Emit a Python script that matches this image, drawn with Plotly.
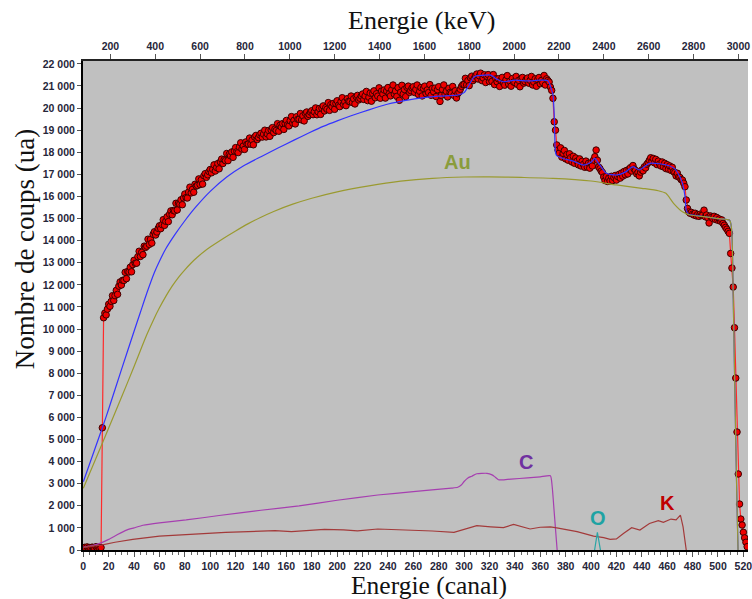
import plotly.graph_objects as go

# channel -> energy calibration for the top axis
KEV_OFFSET = 79.0
KEV_PER_CHANNEL = 5.66
X_MIN, X_MAX = -0.23, 523.65
Y_MAX = 22130

# Measured spectrum: counts for each channel, starting at channel 0
counts = [
    80, 120, 60, 140, 90, 110, 70, 130, 100, 60,                      # 0
    150, 90, 120, 80, 110, 5530, 10510, 10720, 10640, 10900,          # 10
    11120, 11030, 11250, 11510, 11290, 11510, 11750, 11570, 11940, 12130,  # 20
    11990, 12205, 12200, 12565, 12280, 12605, 12580, 12795, 12590, 12915,  # 30
    13110, 12975, 12980, 13275, 13520, 13285, 13470, 13365, 13750, 13695,  # 40
    13750, 14065, 13830, 14065, 13890, 14285, 14400, 14255, 14390, 14555,  # 50
    14670, 14543, 14726, 14949, 14692, 14875, 15078, 14861, 15194, 15347,  # 60
    15170, 15367, 15344, 15691, 15388, 15695, 15652, 15849, 15626, 15933,  # 70
    16110, 15950, 15930, 16200, 16420, 16160, 16320, 16190, 16550, 16470,  # 80
    16500, 16795, 16540, 16755, 16560, 16935, 17030, 16865, 16980, 17125,  # 90
    17220, 17070, 17230, 17430, 17150, 17310, 17490, 17250, 17560, 17690,  # 100
    17490, 17665, 17620, 17945, 17620, 17905, 17840, 18015, 17770, 18055,  # 110
    18210, 18027, 17984, 18231, 18428, 18145, 18282, 18129, 18466, 18363,  # 120
    18370, 18642, 18364, 18556, 18338, 18690, 18762, 18574, 18666, 18788,  # 130
    18860, 18686, 18822, 18998, 18694, 18830, 18986, 18722, 19008, 19114,  # 140
    18890, 19048, 18986, 19294, 18952, 19220, 19138, 19296, 19034, 19302,  # 150
    19440, 19246, 19192, 19428, 19614, 19320, 19446, 19282, 19608, 19494,  # 160
    19490, 19752, 19464, 19646, 19418, 19760, 19822, 19624, 19706, 19818,  # 170
    19880, 19702, 19834, 20006, 19698, 19830, 19982, 19714, 19996, 20098,  # 180
    19870, 20019, 19948, 20247, 19896, 20155, 20064, 20213, 19942, 20201,  # 190
    20330, 20127, 20064, 20291, 20468, 20165, 20282, 20109, 20426, 20303,  # 200
    20290, 20544, 20248, 20422, 20186, 20520, 20574, 20368, 20442, 20546,  # 210
    20636, 20389, 20545, 20753, 20337, 20493, 20675, 20311, 20662, 20779,  # 220
    20467, 20647, 20541, 20916, 20446, 20769, 20637, 20817, 20451, 20774,  # 230
    20928, 20648, 20550, 20829, 21043, 20633, 20769, 20528, 20924, 20350,  # 240
    20715, 21030, 20630, 20841, 20519, 20938, 20993, 20710, 20791, 20911,  # 250
    20966, 20706, 20849, 21044, 20615, 20758, 20927, 20550, 20888, 20992,  # 260
    20657, 20822, 20701, 21061, 20576, 20884, 20737, 20902, 20521, 20829,  # 270
    20968, 20300, 20572, 20842, 21047, 20628, 20755, 20505, 20892, 20707,  # 280
    20665, 20977, 20574, 20782, 20457, 20650, 20720, 20850, 20980, 21060,  # 290
    21068, 21346, 21051, 21246, 21014, 21374, 21444, 21243, 21334, 21455,  # 300
    21540, 21316, 21455, 21580, 21244, 21363, 21505, 21156, 21440, 21514,  # 310
    21201, 21333, 21208, 21516, 21063, 21324, 21185, 21327, 20978, 21259,  # 320
    21387, 21130, 21036, 21282, 21469, 21095, 21212, 20989, 21340, 21177,  # 330
    21151, 21432, 21070, 21257, 20964, 21339, 21386, 21128, 21198, 21304,  # 340
    21360, 21126, 21255, 21431, 21044, 21173, 21325, 20986, 21290, 21384,  # 350
    21101, 21253, 21148, 21476, 21043, 21324, 21250, 21180, 20950, 20800,  # 360
    20440, 19380, 19000, 18330, 18100, 17960, 18200, 17780, 17950, 18080,  # 370
    17700, 17900, 17640, 17930, 17760, 17560, 17820, 17500, 17740, 17600,  # 380
    17430, 17700, 17380, 17590, 17450, 17320, 17600, 17330, 17500, 17280,  # 390
    17520, 17380, 17650, 17800, 18100, 17640, 17330, 17260, 17150, 17080,  # 400
    16880, 16720, 16900, 16680, 16830, 16700, 16910, 16720, 16860, 16950,  # 410
    16740, 16900, 17000, 16830, 17060, 16920, 17130, 16980, 17180, 17020,  # 420
    17230, 17300, 17150, 17400, 17240, 17180, 17020, 17090, 16930, 17100,  # 430
    17200, 17160, 17340, 17290, 17460, 17530, 17640, 17750, 17580, 17720,  # 440
    17520, 17680, 17440, 17600, 17470, 17380, 17560, 17340, 17500, 17260,  # 450
    17440, 17230, 17380, 17180, 17320, 17120, 17080, 16930, 17050, 16880,  # 460
    16860, 16760, 16740, 16600, 16440, 15840, 15460, 15300, 15240, 15280,  # 470
    15200, 15160, 15240, 15120, 15180, 15100, 15200, 15140, 15160, 15380,  # 480
    15080, 15160, 15040, 14800, 15120, 15060, 15000, 15100, 14960, 15050,  # 490
    14920, 14980, 14880, 14940, 14780, 14700, 14600, 14520, 14420, 14330,  # 500
    13420, 12760, 11900, 10060, 7780, 5340, 3440, 2080, 1400, 1130,        # 510
    800, 550, 350, 150,                                                    # 520
]
channels = list(range(len(counts)))

# Simulated total spectrum
total_ch = [0, 10, 15, 20, 30, 40, 45, 50, 56, 60, 65, 72, 80, 88, 100, 113,
            126, 140, 153, 166, 178, 189, 200, 211, 225, 238, 250, 264, 280,
            295, 300, 304, 308, 314, 321, 326, 331, 340, 350, 360, 366, 369,
            370, 371, 372, 373, 378, 386, 394, 400, 403, 406, 412, 420, 427,
            433, 438, 446, 454, 462, 466, 470, 472, 474, 475, 477, 480, 490,
            500, 509, 510, 511, 512, 513, 514, 515, 515.8]
total_val = [3090, 4720, 5530, 6380, 8150, 9900, 10760, 11620, 12560, 13070,
             13630, 14260, 14900, 15480, 16230, 16880, 17380, 17800, 18180,
             18550, 18880, 19170, 19420, 19650, 19920, 20150, 20300, 20440,
             20540, 20590, 20700, 21050, 21420, 21480, 21490, 21300, 21190,
             21260, 21230, 21260, 21240, 20810, 20600, 19700, 18000, 17850,
             17720, 17600, 17420, 17550, 17720, 17500, 17050, 16970, 17100,
             17350, 17200, 17500, 17480, 17380, 17250, 16890, 16600, 16000,
             15380, 15180, 15160, 15080, 15000, 14930, 14800, 14300, 11500,
             8200, 5000, 2000, 0]

# Au contribution
au_ch = [0, 10, 20, 30, 40, 45, 50, 55, 60, 65, 70, 75, 80, 85, 90, 95, 100,
         110, 120, 130, 140, 150, 165, 180, 200, 225, 250, 275, 300, 320, 345,
         370, 400, 420, 440, 453, 459, 465, 472, 478, 490, 500, 509, 510, 511,
         512, 513, 514, 515, 515.8]
au_val = [2790, 4150, 5520, 6900, 8300, 9030, 9740, 10380, 10960, 11480, 11940,
          12340, 12680, 12990, 13260, 13500, 13710, 14090, 14440, 14770, 15060,
          15320, 15650, 15920, 16210, 16480, 16690, 16820, 16880, 16890, 16860,
          16820, 16700, 16520, 16370, 16260, 16140, 15690, 15310, 15160, 15080,
          15000, 14930, 14800, 14300, 11500, 8200, 5000, 2000, 0]

# C contribution
c_ch = [0, 7, 14, 20, 27, 34, 40, 47, 60, 81, 107, 140, 170, 200, 232, 260,
        290, 295, 298, 300, 303, 306, 310, 318, 322, 324, 327, 330, 337, 350,
        360, 368, 369.4, 371, 373.3]
c_val = [130, 200, 320, 480, 700, 900, 1000, 1120, 1230, 1360, 1560, 1800,
         2000, 2250, 2490, 2640, 2800, 2840, 2950, 3100, 3260, 3340, 3450,
         3470, 3400, 3320, 3180, 3170, 3210, 3260, 3310, 3360, 2860, 1700, 0]

# O contribution
o_ch = [402.8, 405.0, 407.4]
o_val = [0, 800, 0]

# K contribution
k_ch = [0, 8, 15, 25, 39, 60, 86, 112, 140, 151, 164, 180, 190, 205, 216, 232,
        242, 258, 275, 292, 298, 305, 310, 321, 331, 339, 347, 352, 360, 368,
        373, 389, 402, 410, 415, 420, 425.5, 432, 438.5, 446, 453, 457, 463,
        467, 470.4, 472.5, 475]
k_val = [120, 170, 230, 350, 480, 630, 720, 800, 850, 880, 830, 880, 935, 910,
         870, 950, 935, 900, 860, 800, 900, 1000, 1100, 1050, 1010, 1160, 1050,
         950, 1030, 1050, 1000, 830, 630, 560, 480, 500, 750, 1010, 900, 1200,
         1330, 1250, 1400, 1360, 1580, 1050, 0]

# Element labels: text, channel, counts, colour
labels = [
    ("Au", 295, 17560, "#8a9c3c"),
    ("C", 348.5, 3980, "#7030a0"),
    ("O", 405.6, 1470, "#1fa3a3"),
    ("K", 460, 2110, "#c00000"),
]


def to_kev(ch):
    return KEV_OFFSET + KEV_PER_CHANNEL * ch


TICK_FONT = dict(family="Arial", size=10.5, color="#26263a", weight="bold")
TITLE_FONT = dict(family="Liberation Serif", size=26, color="#111111")

fig = go.Figure()

fig.add_trace(go.Scatter(
    x=channels, y=counts, mode="lines+markers",
    line=dict(color="#ff2a2a", width=1.2),
    marker=dict(symbol="circle", size=6.5, color="#ee0000",
                line=dict(color="#3a0000", width=1)),
    hoverinfo="skip", showlegend=False))

fig.add_trace(go.Scatter(
    x=total_ch, y=total_val, mode="lines",
    line=dict(color="#3333ff", width=1.2, shape="spline", smoothing=0.6),
    hoverinfo="skip", showlegend=False))

fig.add_trace(go.Scatter(
    x=au_ch, y=au_val, mode="lines",
    line=dict(color="#9a9a30", width=1.2, shape="spline", smoothing=0.6),
    hoverinfo="skip", showlegend=False))

fig.add_trace(go.Scatter(
    x=c_ch, y=c_val, mode="lines",
    line=dict(color="#a63fb0", width=1.2, shape="spline", smoothing=0.5),
    hoverinfo="skip", showlegend=False))

fig.add_trace(go.Scatter(
    x=k_ch, y=k_val, mode="lines",
    line=dict(color="#a33a3a", width=1.2), hoverinfo="skip", showlegend=False))

fig.add_trace(go.Scatter(
    x=o_ch, y=o_val, mode="lines",
    line=dict(color="#2aa5a5", width=1.2), hoverinfo="skip", showlegend=False))

# carrier trace so the energy axis is drawn on top
fig.add_trace(go.Scatter(
    x=[to_kev(X_MIN), to_kev(X_MAX)], y=[0, 0], xaxis="x2", mode="lines",
    line=dict(width=0), opacity=0, hoverinfo="skip", showlegend=False))

for text, ch, val, col in labels:
    fig.add_annotation(x=ch, y=val, xref="x", yref="y", text=f"<b>{text}</b>",
                       showarrow=False, font=dict(family="Arial", size=20, color=col),
                       xanchor="center", yanchor="middle")

# axis titles
W_PLOT, H_PLOT, L, T = 669, 489, 83, 61


def px_to_paper(px, py):
    return (px - L) / W_PLOT, (T + H_PLOT - py) / H_PLOT


for text, px, py, angle, size in [("Energie (keV)", 424.5, 21, 0, 26),
                                  ("Energie (canal)", 431.5, 585, 0, 25.5),
                                  ("Nombre de coups (ua)", 25, 249, -90, 27)]:
    xp, yp = px_to_paper(px, py)
    fig.add_annotation(x=xp, y=yp, xref="paper", yref="paper", text=text,
                       showarrow=False, textangle=angle,
                       font=dict(TITLE_FONT, size=size),
                       xanchor="center", yanchor="middle")

fig.update_layout(
    width=752, height=599,
    margin=dict(l=L, r=0, t=T, b=49),
    paper_bgcolor="white", plot_bgcolor="#c0c0c0",
    separators=", ",
    xaxis=dict(range=[X_MIN, X_MAX], tick0=0, dtick=20, showgrid=False,
               zeroline=False, showline=True, linecolor="black", linewidth=2,
               ticks="outside", ticklen=5, tickcolor="#555555", tickwidth=1,
               tickfont=TICK_FONT, ticklabeloverflow="allow",
               minor=dict(dtick=5, ticks="outside", ticklen=3,
                          tickcolor="#666666", showgrid=False)),
    xaxis2=dict(overlaying="x", side="top",
                range=[to_kev(X_MIN), to_kev(X_MAX)], tick0=0, dtick=200,
                tickformat="d", showgrid=False, zeroline=False, showline=True,
                linecolor="#222222", linewidth=2, ticks="outside", ticklen=5,
                tickcolor="#555555", tickfont=TICK_FONT,
                ticklabeloverflow="allow"),
    yaxis=dict(range=[0, Y_MAX], tick0=0, dtick=1000, tickformat=",d",
               showgrid=False, zeroline=False, showline=True,
               linecolor="black", linewidth=2, ticks="outside", ticklen=4,
               tickcolor="#555555", tickfont=TICK_FONT),
)

fig.write_html("out.html")
